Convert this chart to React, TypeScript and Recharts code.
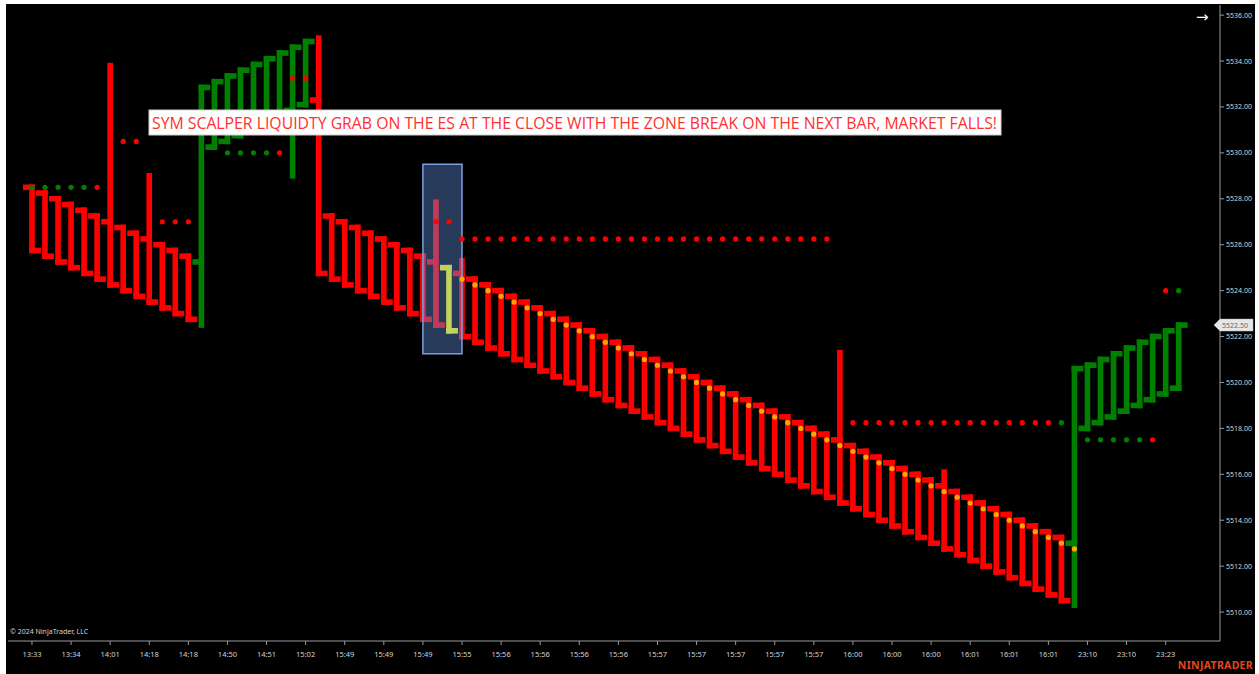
import React from 'react';
import { ComposedChart, Bar, Scatter, XAxis, YAxis, ReferenceArea, ReferenceDot } from 'recharts';

// bar data (one entry per renko-style bar, left to right)
const OPEN = [
  5528.5, 5528.25, 5528.0, 5527.75, 5527.5, 5527.25, 5527.0, 5526.75, 5526.5, 5526.25,
  5526.0, 5525.75, 5525.5, 5525.25, 5530.25, 5530.5, 5530.75, 5531.0, 5531.25, 5531.5,
  5531.85, 5532.1, 5532.3, 5527.25, 5527.0, 5526.75, 5526.5, 5526.25, 5526.0, 5525.75,
  5525.5, 5525.25, 5525.0, 5524.75, 5524.5, 5524.25, 5524.0, 5523.75, 5523.5, 5523.25,
  5523.0, 5522.75, 5522.5, 5522.25, 5522.0, 5521.75, 5521.5, 5521.25, 5521.0, 5520.75,
  5520.5, 5520.25, 5520.0, 5519.75, 5519.5, 5519.25, 5519.0, 5518.75, 5518.5, 5518.25,
  5518.0, 5517.75, 5517.5, 5517.25, 5517.0, 5516.75, 5516.5, 5516.25, 5516.0, 5515.75,
  5515.5, 5515.25, 5515.0, 5514.75, 5514.5, 5514.25, 5514.0, 5513.75, 5513.5, 5513.25,
  5513.0, 5518.0, 5518.25, 5518.5, 5518.75, 5519.0, 5519.25, 5519.5, 5519.75,
];
const CLOSE = [
  5525.75, 5525.5, 5525.25, 5525.0, 5524.75, 5524.5, 5524.25, 5524.0, 5523.75, 5523.5,
  5523.25, 5523.0, 5522.75, 5532.85, 5533.1, 5533.35, 5533.6, 5533.85, 5534.1, 5534.35,
  5534.6, 5534.85, 5524.75, 5524.5, 5524.25, 5524.0, 5523.75, 5523.5, 5523.25, 5523.0,
  5522.75, 5522.5, 5522.25, 5522.0, 5521.75, 5521.5, 5521.25, 5521.0, 5520.75, 5520.5,
  5520.25, 5520.0, 5519.75, 5519.5, 5519.25, 5519.0, 5518.75, 5518.5, 5518.25, 5518.0,
  5517.75, 5517.5, 5517.25, 5517.0, 5516.75, 5516.5, 5516.25, 5516.0, 5515.75, 5515.5,
  5515.25, 5515.0, 5514.75, 5514.5, 5514.25, 5514.0, 5513.75, 5513.5, 5513.25, 5513.0,
  5512.75, 5512.5, 5512.25, 5512.0, 5511.75, 5511.5, 5511.25, 5511.0, 5510.75, 5510.5,
  5520.6, 5520.75, 5521.0, 5521.25, 5521.5, 5521.75, 5522.0, 5522.25, 5522.5,
];
// wicks beyond the body
const WICK_HIGH: Record<number, number> = { 6: 5533.8, 9: 5529.0, 22: 5535.0, 31: 5527.85, 33: 5525.3, 62: 5521.3, 70: 5516.1 };
const WICK_LOW: Record<number, number> = { 13: 5522.5, 20: 5529.0, 80: 5510.3 };

const HIGHLIGHT_BAR = 32;

const TICK_BARS = [0, 3, 6, 9, 12, 15, 18, 21, 24, 27, 30, 33, 36, 39, 42, 45, 48, 51, 54, 57, 60, 63, 66, 69, 72, 75, 78, 81, 84, 87];
const TIME_LABELS = [
  '13:33', '13:34', '14:01', '14:18', '14:18', '14:50', '14:51', '15:02', '15:49', '15:49',
  '15:49', '15:55', '15:56', '15:56', '15:56', '15:56', '15:57', '15:57', '15:57', '15:57',
  '15:57', '16:00', '16:00', '16:00', '16:01', '16:01', '16:01', '23:10', '23:10', '23:23',
];
const PRICE_TICKS = [5510, 5512, 5514, 5516, 5518, 5520, 5522, 5524, 5526, 5528, 5530, 5532, 5534, 5536];
const LAST_PRICE = 5522.5;

// trailing stop dots (orange), first one sits on bar 33
const TRAIL_START = 33;
const TRAIL = [
  5524.5, 5524.25, 5524.0, 5523.75, 5523.5, 5523.25, 5523.0, 5522.75, 5522.5, 5522.25,
  5522.0, 5521.75, 5521.5, 5521.25, 5521.0, 5520.75, 5520.5, 5520.25, 5520.0, 5519.75,
  5519.5, 5519.25, 5519.0, 5518.75, 5518.5, 5518.25, 5518.0, 5517.75, 5517.5, 5517.25,
  5517.0, 5516.75, 5516.5, 5516.25, 5516.0, 5515.75, 5515.5, 5515.25, 5515.0, 5514.75,
  5514.5, 5514.25, 5514.0, 5513.75, 5513.5, 5513.25, 5513.0, 5512.75,
];

// zone dots: price level + bars it is drawn on
const GREEN_ZONES = [
  { price: 5528.5, bars: [0, 1, 2, 3, 4] },
  { price: 5530.0, bars: [15, 16, 17, 18] },
  { price: 5518.25, bars: [79] },
  { price: 5517.5, bars: [81, 82, 83, 84, 85] },
  { price: 5524.0, bars: [88] },
];
const RED_ZONES = [
  { price: 5528.5, bars: [5] },
  { price: 5530.5, bars: [7, 8] },
  { price: 5527.0, bars: [10, 11, 12] },
  { price: 5530.0, bars: [19] },
  { price: 5533.25, bars: [20, 21] },
  { price: 5527.0, bars: [31, 32] },
  { price: 5526.25, bars: [33, 34, 35, 36, 37, 38, 39, 40, 41, 42, 43, 44, 45, 46, 47, 48, 49, 50, 51, 52, 53, 54, 55, 56, 57, 58, 59, 60, 61] },
  { price: 5518.25, bars: [63, 64, 65, 66, 67, 68, 69, 70, 71, 72, 73, 74, 75, 76, 77, 78] },
  { price: 5517.5, bars: [86] },
  { price: 5524.0, bars: [87] },
];

const RED = '#ff0000';
const GREEN = '#008000';
const YELLOW = '#ffff00';
const ORANGE = '#ffa500';
const AXIS = '#9a9a9a';
const TEXT = '#d4d4d4';

const X_MIN = -1.84;
const X_MAX = 91.17;

const bars = OPEN.map((o, i) => {
  const c = CLOSE[i];
  const high = WICK_HIGH[i] ?? Math.max(o, c);
  const low = WICK_LOW[i] ?? Math.min(o, c);
  return { i, open: o, close: c, high, low, range: [low, high] };
});
const trailDots = TRAIL.map((p, k) => ({ i: TRAIL_START + k, p }));
const greenDots = GREEN_ZONES.flatMap(z => z.bars.map(b => ({ i: b, p: z.price })));
const redDots = RED_ZONES.flatMap(z => z.bars.map(b => ({ i: b, p: z.price })));

const BrickShape = (props: any) => {
  const { x, y, width, height, payload } = props;
  if (!payload || x == null) return null;
  const top = Math.min(y, y + height);
  const bottom = Math.max(y, y + height);
  const mid = x + width / 2;
  const unit = (bottom - top) / (payload.high - payload.low);
  const yOpen = top + (payload.high - payload.open) * unit;
  const yClose = top + (payload.high - payload.close) * unit;
  const color = payload.i === HIGHLIGHT_BAR ? YELLOW : payload.close >= payload.open ? GREEN : RED;
  const t = 5.6;
  const h = t / 2;
  const tick = 9;
  return (
    <g fill={color}>
      <rect x={mid - h} y={top - h} width={t} height={bottom - top + t} />
      <rect x={mid - tick} y={yOpen - h} width={tick + h} height={t} />
      <rect x={mid - h} y={yClose - h} width={tick + h} height={t} />
    </g>
  );
};

const dot = (color: string, r: number) => (p: any) =>
  p.cx == null ? <g /> : <circle cx={p.cx} cy={p.cy} r={r} fill={color} />;

const PriceMarker = (props: any) => {
  const { cx, cy } = props;
  return (
    <g>
      <polygon
        points={`${cx - 6},${cy} ${cx},${cy - 6} ${cx + 33},${cy - 6} ${cx + 33},${cy + 6} ${cx},${cy + 6}`}
        fill="#e6e6e6"
        stroke="#bdbdbd"
        strokeWidth={0.5}
      />
      <text x={cx + 15} y={cy + 2.5} textAnchor="middle" fontSize={7} fontFamily="Noto Sans" fill="#666">
        {LAST_PRICE.toFixed(2)}
      </text>
    </g>
  );
};

const App = () => {
  return (
    <div style={{ position: 'absolute', left: 0, top: 0, width: 1259, height: 674, background: '#fff', overflow: 'hidden' }}>
      <div style={{ position: 'absolute', left: 6, top: 4, width: 1249, height: 670, background: '#000' }} />
      <div style={{ position: 'absolute', left: 0, top: 0 }}>
        <ComposedChart width={1259} height={674} data={bars} margin={{ top: 5, right: 6, bottom: 5, left: 8 }}>
          <XAxis
            dataKey="i"
            type="number"
            domain={[X_MIN, X_MAX]}
            allowDataOverflow
            ticks={TICK_BARS}
            interval={0}
            tickFormatter={(v: number) => TIME_LABELS[TICK_BARS.indexOf(v)] ?? ''}
            height={28}
            stroke={AXIS}
            tickSize={4}
            tickMargin={7}
            tick={{ fill: TEXT, fontSize: 7.5, fontFamily: 'Noto Sans' }}
          />
          <YAxis
            orientation="right"
            type="number"
            domain={[5508.74, 5536.44]}
            allowDataOverflow
            ticks={PRICE_TICKS}
            interval={0}
            tickFormatter={(v: number) => v.toFixed(2)}
            width={33}
            stroke={AXIS}
            tickSize={4}
            tick={{ fill: TEXT, fontSize: 7, fontFamily: 'Noto Sans' }}
          />
          <Bar dataKey="range" barSize={13} shape={BrickShape} isAnimationActive={false} />
          <ReferenceArea
            x1={30}
            x2={33}
            y1={5521.25}
            y2={5529.5}
            fill="rgb(100,145,225)"
            fillOpacity={0.4}
            stroke="#7a9fe0"
            strokeWidth={1.5}
            ifOverflow="visible"
            zIndex={350}
          />
          <Scatter data={redDots} dataKey="p" shape={dot(RED, 2.6)} isAnimationActive={false} />
          <Scatter data={greenDots} dataKey="p" shape={dot(GREEN, 2.6)} isAnimationActive={false} />
          <Scatter data={trailDots} dataKey="p" shape={dot(ORANGE, 2.6)} isAnimationActive={false} />
          <ReferenceDot x={X_MAX} y={LAST_PRICE} ifOverflow="visible" shape={PriceMarker} zIndex={2000} />
        </ComposedChart>
      </div>
      <svg width={1259} height={674} style={{ position: 'absolute', left: 0, top: 0, pointerEvents: 'none' }}>
        <rect x={149} y={110} width={852} height={25} fill="#fff" stroke="#cfcfcf" strokeWidth={1} />
        <text
          x={152}
          y={128.5}
          fontSize={16}
          fontFamily="Open Sans"
          fill="#ff3030"
          textLength={845}
          lengthAdjust="spacingAndGlyphs"
        >
          SYM SCALPER LIQUIDTY GRAB ON THE ES AT THE CLOSE WITH THE ZONE BREAK ON THE NEXT BAR, MARKET FALLS!
        </text>
        <text x={1196} y={22} fontSize={15} fill="#fff" fontFamily="DejaVu Sans">→</text>
        <text x={10} y={634} fontSize={7} fill={TEXT} fontFamily="Noto Sans">© 2024 NinjaTrader, LLC</text>
        <text x={1253} y={669} textAnchor="end" fontSize={10.5} fontWeight={700} fill="#e2471d" fontFamily="Noto Sans" letterSpacing={0.3}>
          NINJATRADER
        </text>
      </svg>
    </div>
  );
};

export default App;
